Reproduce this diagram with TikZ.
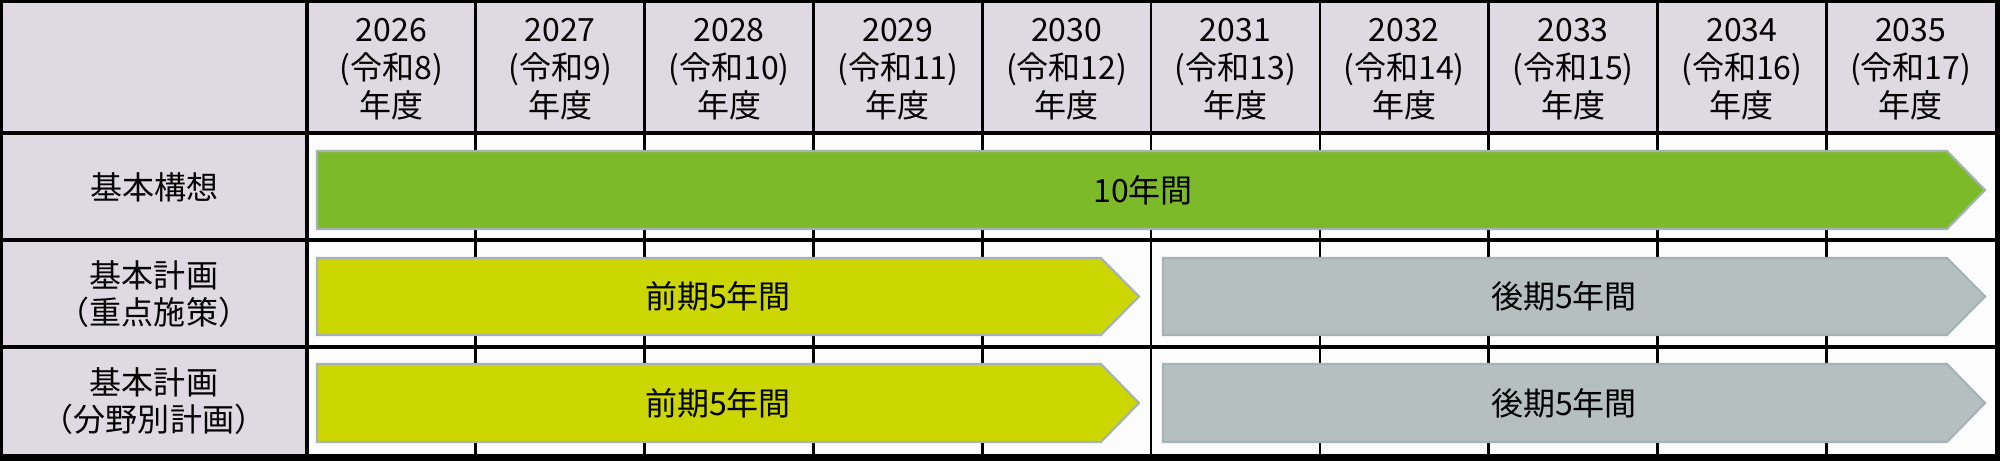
\documentclass[tikz,border=0pt]{standalone}
\usepackage{fontspec}
\setmainfont{Noto Sans CJK JP}
\usetikzlibrary{positioning}
\definecolor{hdrfill}{RGB}{223,217,225}
\definecolor{bodyfill}{RGB}{252,252,252}
\definecolor{greenbar}{RGB}{124,186,42}
\definecolor{yellowbar}{RGB}{204,214,0}
\definecolor{graybar}{RGB}{181,191,191}
\definecolor{barline}{RGB}{165,178,182}
\tikzset{
    gridthin/.style={draw=black,line width=0.75pt},
    gridmid/.style={draw=black,line width=0.9pt},
    gridthick/.style={draw=black,line width=1.2pt},
    yeartag/.style={align=center,inner sep=0pt,text=black,font=\fontsize{9.1pt}{10.8pt}\selectfont},
    rowtag/.style={align=center,inner sep=0pt,text=black,font=\fontsize{9.1pt}{10.5pt}\selectfont},
    barout/.style={draw=barline,line width=0.6pt},
    bartag/.style={inner sep=0pt,text=black,font=\fontsize{9.1pt}{10.8pt}\selectfont}
}
\begin{document}
\begin{tikzpicture}[x=0.01cm,y=-0.01cm]
        \useasboundingbox (0,0) rectangle (2000,461);
        % frame and cell fills
        \fill[black] (0,0) rectangle (2000,461);
        \fill[bodyfill] (3,3) rectangle (1995,454);
        \fill[hdrfill] (3,3) rectangle (1995,133);
        \fill[hdrfill] (3,133) rectangle (307,454);

        % grid lines
        \foreach \i in {1,...,9}
            \draw[gridthin] (307+168.8*\i,3) -- (307+168.8*\i,454);
        \draw[gridmid] (307,3) -- (307,454);
        \draw[gridthick] (3,133) -- (1995,133);
        \draw[gridmid] (3,240) -- (1995,240);
        \draw[gridmid] (3,347) -- (1995,347);

        % year headers
        \foreach \i in {0,...,9} {
            \pgfmathtruncatemacro\yr{2026+\i}
            \pgfmathtruncatemacro\rw{8+\i}
            \node[yeartag] (year\i) at (391.4+168.8*\i,69) {\yr\\(令和\rw)\\年度};
        }

        % row titles
        \node[rowtag] (concept) at (154,187) {基本構想};
        \node[rowtag] (keyplan) at (154,294) {基本計画\\（重点施策）};
        \node[rowtag] (fieldplan) at (154,401) {基本計画\\（分野別計画）};

        % Basic concept bar
        \draw[barout,fill=greenbar] (317,151) -- (1947,151) -- (1985,190) -- (1947,229) -- (317,229) -- cycle;
        \node[bartag] (tenyears) at (1143,190) {10年間};

        % Key measures bars
        \draw[barout,fill=yellowbar] (317,258) -- (1101,258) -- (1139,296.5) -- (1101,335) -- (317,335) -- cycle;
        \node[bartag] (keyfirst) at (718,296.5) {前期5年間};
        \draw[barout,fill=graybar] (1163,258) -- (1947,258) -- (1985,296.5) -- (1947,335) -- (1163,335) -- cycle;
        \node[bartag] (keysecond) at (1564,296.5) {後期5年間};

        % Field plan bars
        \draw[barout,fill=yellowbar] (317,364) -- (1101,364) -- (1139,403) -- (1101,442) -- (317,442) -- cycle;
        \node[bartag] (fieldfirst) at (718,403) {前期5年間};
        \draw[barout,fill=graybar] (1163,364) -- (1947,364) -- (1985,403) -- (1947,442) -- (1163,442) -- cycle;
        \node[bartag] (fieldsecond) at (1564,403) {後期5年間};
    \end{tikzpicture}
\end{document}
